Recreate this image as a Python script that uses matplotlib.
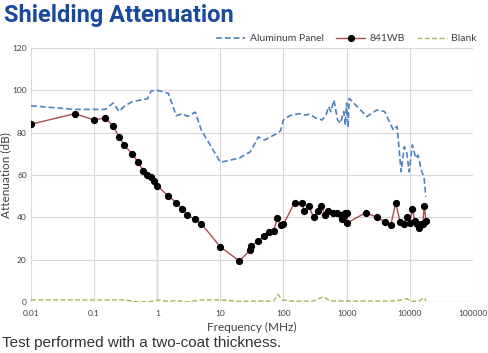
import numpy as np
import matplotlib.pyplot as plt
from matplotlib.ticker import FixedLocator, FixedFormatter, NullLocator

# --- data ---
wb_freq = [0.01, 0.05, 0.1, 0.15, 0.2, 0.25, 0.3, 0.4, 0.5, 0.6, 0.7, 0.8, 0.9, 1,
           1.5, 2, 2.5, 3, 4, 5, 10, 20, 30, 31, 40, 50, 60, 70, 80, 90, 100,
           150, 200, 210, 250, 300, 350, 400, 450, 500, 600, 700, 800, 850, 900,
           950, 1000, 1010, 2000, 3000, 4000, 5000, 6000, 7000, 8000, 9000, 10000,
           11000, 12000, 13000, 14000, 15000, 16000, 17000, 18000]
wb_db = [84, 89, 86, 87, 83, 78, 74, 70, 66, 62, 60, 59, 57, 55,
         50, 47, 44, 41, 39, 37, 26, 19.4, 24.6, 26.4, 29, 31, 33, 33.7, 39.5, 36.2, 36.7,
         47, 47, 43, 45.3, 40, 43, 45.3, 41.3, 43, 42.2, 41.9, 41, 39, 40.8,
         42, 42.2, 37.2, 42.2, 40, 38, 36.2, 47, 38, 37, 40, 37.2,
         44, 38.3, 36.7, 35, 36.7, 36.7, 45.5, 38.3]

al_freq = [0.01, 0.05, 0.1, 0.15, 0.2, 0.25, 0.3, 0.4, 0.6, 0.7, 0.8, 1, 1.5, 2,
           2.5, 3, 4, 5, 10, 20, 30, 40, 50, 80, 90, 100, 125, 175, 220, 260,
           330, 410, 470, 520, 560, 630, 720, 800, 900, 950, 1000, 1050, 1100,
           2100, 3000, 4000, 5500, 6300, 7300, 8200, 9000, 9800, 11000, 12500,
           13500, 15500, 16800, 18000]
al_db = [92.7, 91, 91, 91, 94, 90, 92.5, 94.6, 95.7, 96, 99.7, 100, 98.6, 88,
         89, 87.7, 89.7, 81.2, 66, 68, 71, 78, 76.5, 79.7, 81, 86, 88, 89, 88.3, 88.8,
         86.8, 86, 88.3, 92.3, 89.9, 95.4, 86, 84.4, 90, 83.6, 94, 82.5, 96.2,
         87.6, 90.7, 90, 81.2, 83, 61.5, 73.4, 70.2, 61.5, 74.2, 67.9,
         69.4, 61.5, 59.2, 49.7]

blank_freq = [0.01, 0.1, 0.3, 0.5, 0.8, 1, 1.5, 2, 3, 5, 10, 20, 50, 70, 82, 95,
              150, 300, 430, 550, 1000, 3000, 6000, 9000, 11000, 14000, 17000, 18000]
blank_db = [1, 1, 1, 0, 0.3, 1, 0.3, 0.7, 0, 1, 1, 0.3, 0.5, 0.5, 3.5, 1,
            0.3, 0.5, 2.5, 0.5, 0.5, 0.5, 0.5, 1.5, 0.3, 0.5, 2, 0.5]

x_ticks = [0.01, 0.1, 1, 10, 100, 1000, 10000, 100000]
x_labels = ['0.01', '0.1', '1', '10', '100', '1000', '10000', '100000']
y_ticks = [0, 20, 40, 60, 80, 100, 120]

fig = plt.figure(figsize=(4.88, 3.53), dpi=100)
ax = fig.add_axes([0.0635, 0.1445, 0.9055, 0.7195])

ax.plot(al_freq, al_db, color='#4F81BD', lw=1.2, ls=(0, (3.5, 1.8)), label='Aluminum Panel')
ax.plot(wb_freq, wb_db, color='#A94F4F', lw=1.0, marker='o', ms=4.2,
        mfc='black', mec='black', label='841WB')
ax.plot(blank_freq, blank_db, color='#9BBB59', lw=1.0, ls=(0, (3.5, 1.8)), label='Blank')

ax.set_xscale('log')
ax.set_xlim(0.01, 100000)
ax.set_ylim(0, 120)
ax.xaxis.set_major_locator(FixedLocator(x_ticks))
ax.xaxis.set_major_formatter(FixedFormatter(x_labels))
ax.xaxis.set_minor_locator(NullLocator())
ax.set_yticks(y_ticks)

for s in ax.spines.values():
    s.set_visible(False)
ax.grid(True, color='#d9d9d9', lw=0.8)
ax.set_axisbelow(True)
ax.axvline(1, color='#a6a6a6', lw=0.9, zorder=0.5)
ax.axhline(0, color='#d0d0d0', lw=0.9, zorder=0.5)
ax.tick_params(axis='x', length=0, labelsize=6, labelcolor='#404040', pad=6)
ax.tick_params(axis='y', length=0, labelsize=6, labelcolor='#404040', pad=3)
for lab in ax.get_xticklabels() + ax.get_yticklabels():
    lab.set_family('Lato')

ax.set_xlabel('Frequency (MHz)', fontsize=8.5, family='Lato', color='#404040', labelpad=3)
ax.set_ylabel('Attenuation (dB)', fontsize=8.5, family='Lato', color='#404040', labelpad=1)

fig.legend(loc='upper right', bbox_to_anchor=(0.995, 0.93), ncol=3, frameon=False,
           prop={'family': 'Lato', 'size': 7.5}, handlelength=2.8, columnspacing=1.2,
           handletextpad=0.4, labelcolor='#404040')

fig.text(0.008, 0.99, 'Shielding Attenuation', ha='left', va='top', fontsize=17,
         fontweight='bold', family='Roboto', color='#1A4A9C')
fig.text(0.004, 0.008, 'Test performed with a two-coat thickness.', ha='left', va='bottom',
         fontsize=11, family='Liberation Sans', color='#333333')

fig.savefig('out.png', dpi=100)
